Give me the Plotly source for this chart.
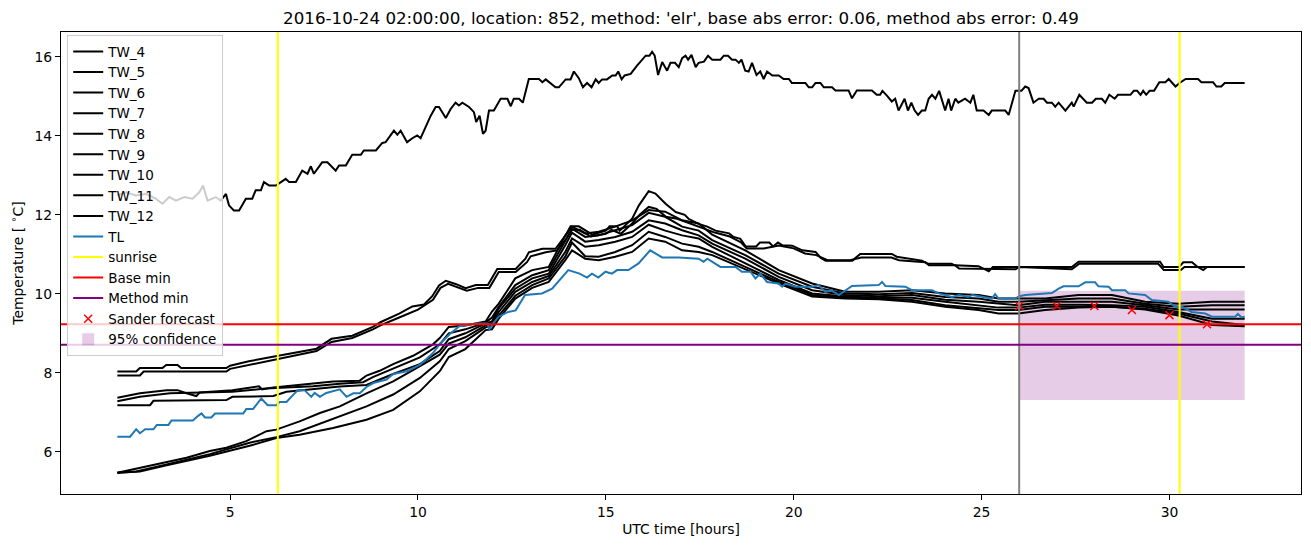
import plotly.graph_objects as go

# ---------------- data (hours UTC, temperature in deg C) ----------------
TW_4 = [(2.0,12.49),(2.23,12.57),(2.49,12.49),(2.76,12.53),(3.02,12.41),(3.2,12.28),(3.38,12.45),(3.56,12.36),(3.78,12.45),(4.0,12.41),
        (4.18,12.57),(4.28,12.74),(4.4,12.36),(4.62,12.45),(4.75,12.36),(4.89,12.53),(4.97,12.24),(5.1,12.11),(5.24,12.11),(5.42,12.41),
        (5.59,12.41),(5.68,12.62),(5.82,12.62),(5.9,12.83),(6.04,12.74),(6.22,12.74),(6.48,12.91),(6.57,12.83),(6.75,12.83),(6.92,13.12),
        (7.06,13.04),(7.15,13.23),(7.23,13.04),(7.45,13.33),(7.59,13.33),(7.81,13.12),(7.9,13.25),(8.08,13.25),(8.25,13.52),(8.48,13.52),
        (8.56,13.63),(8.88,13.63),(9.05,13.82),(9.14,13.84),(9.36,14.13),(9.45,14.03),(9.54,14.13),(9.71,13.84),(9.85,13.94),(9.98,14.01),
        (10.07,13.94),(10.2,14.22),(10.34,14.51),(10.47,14.73),(10.56,14.73),(10.74,14.45),(10.87,14.68),(11.0,14.84),(11.09,14.77),(11.18,14.84),
        (11.36,14.73),(11.49,14.6),(11.55,14.35),(11.64,14.51),(11.73,14.05),(11.8,14.13),(11.89,14.64),(12.02,14.64),(12.2,14.94),(12.38,14.94),
        (12.47,14.75),(12.55,14.94),(12.69,14.94),(12.79,14.84),(12.95,15.44),(13.22,15.44),(13.31,15.36),(13.4,15.43),(13.53,15.34),(13.66,15.23),
        (13.75,15.23),(13.93,15.43),(14.06,15.43),(14.15,15.63),(14.28,15.46),(14.39,15.23),(14.5,15.34),(14.62,15.23),(14.73,15.43),(14.81,15.34),
        (14.9,15.43),(15.03,15.43),(15.17,15.53),(15.26,15.53),(15.33,15.63),(15.42,15.43),(15.5,15.53),(15.66,15.57),(15.83,15.78),(16.06,16.03),
        (16.16,16.03),(16.23,16.13),(16.3,16.03),(16.39,15.54),(16.5,15.87),(16.63,15.65),(16.72,15.85),(16.84,15.85),(16.94,15.74),(17.03,15.97),
        (17.12,16.03),(17.19,15.93),(17.28,16.05),(17.39,15.74),(17.47,15.85),(17.61,15.88),(17.72,16.03),(17.83,15.93),(18.05,15.93),(18.14,16.03),
        (18.25,16.03),(18.36,15.93),(18.45,15.93),(18.54,15.85),(18.61,15.93),(18.71,15.65),(18.8,15.63),(18.89,15.85),(19.01,15.54),(19.11,15.63),
        (19.2,15.44),(19.29,15.63),(19.43,15.53),(19.6,15.53),(19.73,15.44),(19.87,15.44),(19.95,15.34),(20.31,15.34),(20.4,15.23),(20.49,15.23),
        (20.58,15.34),(20.71,15.34),(20.8,15.23),(21.02,15.23),(21.11,15.15),(21.46,15.15),(21.55,14.95),(21.68,15.15),(22.08,15.15),(22.21,15.04),
        (22.3,15.04),(22.36,15.14),(22.48,15.02),(22.61,14.87),(22.7,14.94),(22.79,14.64),(22.95,14.94),(23.04,14.64),(23.13,14.84),(23.22,14.64),
        (23.31,14.53),(23.41,14.64),(23.5,14.64),(23.59,14.94),(23.68,15.04),(23.77,14.94),(23.87,15.14),(23.94,14.94),(24.03,14.64),(24.12,14.94),
        (24.19,14.64),(24.3,14.94),(24.38,14.84),(24.56,14.94),(24.7,14.84),(24.78,15.04),(24.87,14.64),(25.05,14.64),(25.19,14.53),(25.27,14.64),
        (25.63,14.64),(25.72,14.53),(25.9,15.14),(26.06,15.14),(26.16,15.25),(26.25,15.21),(26.38,14.84),(26.52,14.94),(26.65,14.94),(26.74,14.84),
        (26.87,14.84),(26.96,14.74),(27.05,14.84),(27.23,14.64),(27.4,14.84),(27.45,14.74),(27.6,15.04),(27.8,14.84),(27.94,14.84),(28.04,14.94),
        (28.2,14.94),(28.29,14.84),(28.4,15.04),(28.54,14.94),(28.63,15.04),(28.96,15.04),(29.05,15.14),(29.14,15.14),(29.23,15.04),(29.3,15.14),
        (29.38,15.04),(29.47,15.14),(29.59,15.14),(29.73,15.36),(29.89,15.36),(29.98,15.44),(30.16,15.25),(30.27,15.34),(30.43,15.44),(30.76,15.44),
        (30.85,15.36),(31.16,15.36),(31.25,15.25),(31.38,15.25),(31.47,15.34),(32.0,15.34)]

TW_5 = [(2.0,8.03),(2.5,8.03),(2.6,8.12),(3.2,8.12),(3.3,8.2),(3.6,8.2),(3.7,8.12),(4.9,8.12),(5.0,8.18),(5.5,8.29),(6.1,8.4),
        (6.8,8.52),(7.3,8.61),(7.7,8.86),(8.25,8.94),(8.8,9.16),(9.0,9.28),(9.5,9.5),(9.85,9.68),(10.16,9.73),(10.38,9.94),(10.56,10.21),
        (10.74,10.33),(11.0,10.25),(11.27,10.14),(11.54,10.22),(11.86,10.22),(12.11,10.63),(12.6,10.63),(12.86,10.89),(12.95,11.05),
        (13.31,11.14),(13.66,11.14),(13.93,11.48),(14.06,11.71),(14.28,11.71),(14.55,11.56),(14.64,11.5),(15.0,11.6),(15.1,11.71),
        (15.3,11.71),(15.37,11.6),(15.7,11.9),(15.88,12.24),(16.14,12.6),(16.32,12.54),(16.59,12.28),(16.86,12.07),(17.1,12.0),(17.2,11.9),
        (17.47,11.77),(17.7,11.7),(17.92,11.6),(18.28,11.53),(18.4,11.44),(18.58,11.39),(18.72,11.2),(19.0,11.2),(19.1,11.3),(19.35,11.3),
        (19.45,11.2),(19.58,11.3),(19.7,11.23),(19.96,11.22),(20.23,11.1),(20.58,11.06),(20.72,10.91),(20.85,10.84),(21.56,10.84),
        (21.77,11.01),(22.61,11.01),(22.74,10.94),(23.41,10.84),(23.58,10.76),(24.2,10.76),(24.29,10.72),(24.92,10.7),(25.19,10.57),
        (25.3,10.68),(27.4,10.68),(27.58,10.81),(29.75,10.81),(29.84,10.68),(30.25,10.68),(30.37,10.8),(30.6,10.8),(30.75,10.68),
        (30.9,10.6),(31.0,10.68),(32.0,10.68)]

TW_6 = [(2.0,7.93),(2.6,7.93),(2.7,8.03),(4.9,8.03),(5.0,8.1),(5.5,8.2),(6.1,8.32),(6.8,8.45),(7.3,8.55),(7.7,8.78),(8.25,8.88),
        (8.8,9.1),(9.0,9.2),(9.5,9.4),(10.0,9.6),(10.4,9.85),(10.6,10.15),(10.8,10.25),(11.3,10.08),(11.6,10.15),(11.9,10.15),(12.15,10.55),
        (12.6,10.55),(12.9,10.8),(13.0,10.95),(13.4,11.05),(13.7,11.1),(13.95,11.4),(14.1,11.62),(14.3,11.62),(14.6,11.45),(15.0,11.52),
        (15.15,11.62),(15.4,11.52),(15.7,11.78),(15.9,12.0),(16.14,12.2),(16.35,12.15),(16.6,11.95),(16.9,11.9),(17.2,11.8),(17.5,11.68),
        (17.9,11.55),(18.3,11.45),(18.6,11.3),(18.75,11.15),(19.2,11.15),(19.6,11.22),(20.0,11.15),(20.3,11.02),(20.6,10.98),(20.9,10.85),
        (21.5,10.85),(21.8,10.92),(22.6,10.92),(22.8,10.85),(23.5,10.8),(23.6,10.72),(24.3,10.72),(24.4,10.64),(25.9,10.62),(26.0,10.68),
        (27.4,10.62),(27.6,10.76),(29.7,10.76),(29.85,10.6),(30.3,10.6),(30.4,10.68),(32.0,10.68)]

# afternoon sampling hours shared by the six lower sensors
PM_HOURS = [10.82, 11.26, 11.8, 11.97, 12.15, 12.59, 13.04, 13.48, 13.92, 14.1, 14.45, 14.81, 15.25, 15.7, 16.14, 16.58,
            17.03, 17.47, 17.83, 18.71, 19.6, 20.49, 21.37, 22.26, 23.15, 24.03, 24.92, 25.45, 25.98, 26.69, 27.58, 28.47,
            29.35, 30.24, 31.13, 32.0]

TW_7_AM = [(2.0,7.37),(2.6,7.48),(3.31,7.56),(3.6,7.56),(3.84,7.48),(4.1,7.41),(4.19,7.5),(5.06,7.56),(5.77,7.66),(5.85,7.58),
           (6.15,7.63),(7.21,7.72),(7.74,7.78),(8.45,7.8),(8.63,7.93),(8.98,8.05),(9.34,8.22),(9.87,8.43),(10.4,8.72),(10.58,8.88)]
TW_7_PM = [9.16, 9.2, 9.3, 9.55, 9.75, 10.39, 10.6, 10.68, 11.48, 11.7, 11.53, 11.57, 11.7, 11.86, 12.12, 12.08, 11.86, 11.78,
           11.5, 11.1, 10.6, 10.26, 10.05, 10.05, 10.09, 10.01, 9.97, 9.88, 9.88, 9.88, 9.97, 9.97, 9.8, 9.75, 9.8, 9.8]

TW_8_AM = [(2.0,7.28),(2.6,7.39),(3.4,7.48),(5.06,7.52),(5.94,7.6),(7.21,7.66),(7.92,7.72),(8.54,7.76),(8.8,7.89),(9.34,8.1),
           (10.05,8.39),(10.58,8.72)]
TW_8_PM = [9.0, 9.1, 9.27, 9.4, 9.67, 10.22, 10.47, 10.6, 11.36, 11.65, 11.44, 11.48, 11.61, 11.74, 12.05, 11.95, 11.7, 11.6,
           11.36, 10.98, 10.51, 10.18, 10.01, 9.99, 10.02, 9.92, 9.88, 9.8, 9.8, 9.84, 9.88, 9.88, 9.75, 9.67, 9.71, 9.71]

TW_9_AM = [(2.0,7.18),(2.87,7.18),(2.96,7.29),(4.9,7.31),(5.06,7.39),(6.15,7.41),(6.5,7.52),(7.92,7.65),(8.63,7.69),(8.9,7.8),
           (9.34,7.97),(10.05,8.22),(10.58,8.55)]
TW_9_PM = [8.85, 9.0, 9.25, 9.3, 9.63, 10.13, 10.39, 10.51, 11.23, 11.55, 11.32, 11.36, 11.44, 11.57, 11.86, 11.78, 11.61, 11.48,
           11.27, 10.89, 10.43, 10.09, 9.97, 9.94, 9.97, 9.85, 9.8, 9.75, 9.71, 9.8, 9.8, 9.8, 9.71, 9.6, 9.6, 9.6]

TW_10_AM = [(2.0,5.47),(2.34,5.54),(2.87,5.64),(3.84,5.85),(4.46,6.02),(4.9,6.1),(5.43,6.27),(5.97,6.52),(6.23,6.56),(6.85,6.77),
            (7.39,6.98),(7.92,7.15),(8.63,7.48),(9.34,7.78),(9.96,8.12),(10.4,8.37),(10.58,8.46)]
TW_10_PM = [8.74, 8.9, 9.2, 9.25, 9.54, 10.05, 10.3, 10.45, 11.06, 11.4, 11.19, 11.23, 11.32, 11.44, 11.75, 11.6, 11.48, 11.4,
            11.19, 10.77, 10.35, 10.01, 9.93, 9.9, 9.9, 9.8, 9.7, 9.65, 9.65, 9.72, 9.72, 9.71, 9.67, 9.54, 9.37, 9.37]

TW_11_AM = [(2.0,5.47),(2.5,5.5),(3.31,5.68),(4.46,5.94),(5.52,6.23),(6.23,6.37),(6.85,6.52),(7.74,6.84),(8.63,7.15),(9.34,7.45),
            (10.05,7.87),(10.58,8.29)]
TW_11_PM = [8.6, 8.8, 9.15, 9.2, 9.45, 9.95, 10.22, 10.39, 10.94, 11.3, 10.95, 10.94, 11.06, 11.23, 11.57, 11.44, 11.27, 11.19,
            11.06, 10.68, 10.3, 9.97, 9.9, 9.88, 9.84, 9.71, 9.63, 9.59, 9.59, 9.67, 9.67, 9.67, 9.62, 9.5, 9.3, 9.21]

TW_12_AM = [(2.0,5.47),(2.6,5.5),(3.31,5.66),(4.46,5.9),(5.52,6.15),(6.23,6.35),(6.85,6.43),(7.74,6.6),(8.63,6.81),(9.34,7.06),
            (10.05,7.53),(10.58,8.04)]
TW_12_PM = [8.4, 8.6, 9.08, 9.1, 9.37, 9.88, 10.15, 10.3, 10.85, 11.1, 10.89, 10.85, 10.94, 11.06, 11.4, 11.32, 11.1, 11.06,
            10.98, 10.62, 10.26, 9.93, 9.88, 9.86, 9.8, 9.67, 9.59, 9.5, 9.5, 9.59, 9.65, 9.67, 9.6, 9.45, 9.21, 9.18]

TL = [(2.0,6.38),(2.34,6.38),(2.5,6.57),(2.6,6.47),(2.74,6.57),(2.96,6.57),(3.05,6.68),(3.36,6.68),(3.44,6.79),(4.01,6.79),
      (4.15,6.91),(4.24,6.97),(4.33,6.87),(4.5,6.87),(4.6,6.97),(5.35,6.97),(5.43,7.08),(5.61,7.08),(5.83,7.35),(6.0,7.18),
      (6.23,7.18),(6.32,7.26),(6.5,7.26),(6.63,7.39),(6.8,7.56),(6.98,7.56),(7.16,7.39),(7.25,7.49),(7.39,7.39),(7.56,7.49),
      (7.92,7.58),(8.1,7.39),(8.28,7.48),(8.45,7.48),(8.63,7.64),(8.81,7.74),(9.16,7.83),(9.34,7.97),(9.7,8.04),(10.05,8.2),
      (10.4,8.5),(10.6,8.75),(10.85,8.98),(11.1,9.18),(11.55,9.25),(11.85,9.25),(11.9,9.1),(12.0,9.25),(12.15,9.42),(12.4,9.54),
      (12.6,9.58),(12.85,9.97),(13.3,10.01),(13.57,10.13),(14.0,10.6),(14.3,10.51),(14.5,10.41),(14.63,10.51),(14.8,10.41),
      (14.99,10.56),(15.16,10.51),(15.3,10.6),(15.6,10.6),(15.87,10.77),(16.18,11.1),(16.5,10.92),(16.94,10.92),(17.47,10.89),
      (17.6,10.81),(17.7,10.89),(17.92,10.77),(18.05,10.68),(18.45,10.68),(18.62,10.56),(18.85,10.56),(18.98,10.39),(19.11,10.51),
      (19.29,10.3),(19.6,10.26),(19.69,10.18),(19.78,10.26),(20.04,10.18),(20.49,10.18),(20.66,10.22),(20.84,10.05),(21.0,10.09),
      (21.2,9.97),(21.37,10.09),(21.55,10.2),(22.26,10.22),(22.35,10.3),(22.44,10.2),(22.97,10.18),(23.15,10.09),(23.68,10.09),
      (23.86,10.01),(24.21,9.92),(24.4,9.97),(24.65,9.92),(24.75,9.97),(25.27,9.88),(25.36,9.99),(25.45,9.88),(25.9,9.88),
      (26.0,9.94),(26.16,9.97),(26.87,10.02),(27.05,10.13),(27.18,10.19),(27.58,10.19),(27.76,10.29),(28.02,10.29),(28.11,10.19),
      (28.38,10.18),(28.47,10.09),(28.82,10.09),(28.91,10.01),(29.35,9.97),(29.53,9.84),(29.97,9.8),(30.15,9.67),(30.33,9.67),
      (30.59,9.54),(30.95,9.5),(31.13,9.42),(31.75,9.42),(31.82,9.49),(31.92,9.4),(32.0,9.42)]

SUNRISE = [6.27, 30.27]
FORECAST_START = 26.0
BASE_MIN = 9.23
METHOD_MIN = 8.71
SANDER_HOURS = [26, 27, 28, 29, 30, 31]
SANDER_TEMPS = [9.69, 9.69, 9.69, 9.59, 9.46, 9.23]
CONF_HOURS = [26.0, 32.0]
CONF_TEMPS = [7.31, 10.08]

TITLE = "2016-10-24 02:00:00, location: 852, method: 'elr', base abs error: 0.06, method abs error: 0.49"

# ---------------- figure ----------------
def split(pairs):
    return [p[0] for p in pairs], [p[1] for p in pairs]

def join(am, pm):
    xs, ys = split(am)
    return xs + PM_HOURS, ys + pm

series = [
    ("TW_4",) + tuple(split(TW_4)),
    ("TW_5",) + tuple(split(TW_5)),
    ("TW_6",) + tuple(split(TW_6)),
    ("TW_7",) + tuple(join(TW_7_AM, TW_7_PM)),
    ("TW_8",) + tuple(join(TW_8_AM, TW_8_PM)),
    ("TW_9",) + tuple(join(TW_9_AM, TW_9_PM)),
    ("TW_10",) + tuple(join(TW_10_AM, TW_10_PM)),
    ("TW_11",) + tuple(join(TW_11_AM, TW_11_PM)),
    ("TW_12",) + tuple(join(TW_12_AM, TW_12_PM)),
]

FONT = "DejaVu Sans"
FS = 13.9
LFS = 13.5
fig = go.Figure()
rank = 1
for name, xs, ys in series:
    fig.add_trace(go.Scatter(x=xs, y=ys, mode="lines", name=name, legendgroup=name, legendrank=rank,
                             line=dict(color="black", width=2)))
    rank += 1

tx, ty = split(TL)
fig.add_trace(go.Scatter(x=tx, y=ty, mode="lines", name="TL", legendgroup="TL", legendrank=10,
                         line=dict(color="#1f77b4", width=2)))

fig.add_trace(go.Scatter(x=SANDER_HOURS, y=SANDER_TEMPS, mode="markers", name="Sander forecast",
                         legendgroup="sander", legendrank=14,
                         marker=dict(symbol="x-thin", size=8, color="red", line=dict(color="red", width=1.5))))

shapes = []
# confidence band
shapes.append(dict(type="rect", xref="x", yref="y", x0=CONF_HOURS[0], x1=CONF_HOURS[1], y0=CONF_TEMPS[0], y1=CONF_TEMPS[1],
                   fillcolor="rgba(128,0,128,0.2)", line=dict(width=0), layer="below",
                   showlegend=True, name="95% confidence", legendrank=15, legendgroup="conf"))
# forecast start
shapes.append(dict(type="line", xref="x", yref="y domain", x0=FORECAST_START, x1=FORECAST_START, y0=0, y1=1,
                   line=dict(color="gray", width=2), layer="above"))
for i, s in enumerate(SUNRISE):
    shapes.append(dict(type="line", xref="x", yref="y domain", x0=s, x1=s, y0=0, y1=1,
                       line=dict(color="yellow", width=2), layer="above",
                       showlegend=(i == 0), name="sunrise", legendrank=11, legendgroup="sunrise"))
shapes.append(dict(type="line", xref="x domain", yref="y", x0=0, x1=1, y0=BASE_MIN, y1=BASE_MIN,
                   line=dict(color="red", width=2), layer="above",
                   showlegend=True, name="Base min", legendrank=12, legendgroup="base"))
shapes.append(dict(type="line", xref="x domain", yref="y", x0=0, x1=1, y0=METHOD_MIN, y1=METHOD_MIN,
                   line=dict(color="purple", width=2), layer="above",
                   showlegend=True, name="Method min", legendrank=13, legendgroup="method"))

fig.update_layout(
    width=1311, height=547,
    margin=dict(l=61, r=10, t=32, b=53),
    paper_bgcolor="white", plot_bgcolor="white",
    font=dict(family=FONT, size=FS, color="black"),
    title=dict(text=TITLE, x=0.5, xref="paper", xanchor="center", y=1 - 18 / 547, yref="container",
               yanchor="middle", font=dict(family=FONT, size=16.7, color="black")),
    shapes=shapes,
    showlegend=True,
    legend=dict(x=0.005, y=0.993, xanchor="left", yanchor="top", bgcolor="rgba(255,255,255,0.8)",
                bordercolor="#cccccc", borderwidth=1, font=dict(family=FONT, size=LFS, color="black"),
                tracegroupgap=0, itemwidth=30),
)
fig.update_xaxes(range=[0.5, 33.5], tickvals=[5, 10, 15, 20, 25, 30], ticks="outside", ticklen=5, tickwidth=1,
                 tickcolor="black", showline=True, linecolor="black", linewidth=1, mirror=True,
                 tickfont=dict(family=FONT, size=FS),
                 showgrid=False, zeroline=False, title=dict(text="UTC time [hours]", standoff=5,
                 font=dict(family=FONT, size=FS)))
fig.update_yaxes(range=[4.93, 16.63], tickvals=[6, 8, 10, 12, 14, 16], ticks="outside", ticklen=5, tickwidth=1,
                 tickcolor="black", showline=True, linecolor="black", linewidth=1, mirror=True,
                 tickfont=dict(family=FONT, size=FS),
                 showgrid=False, zeroline=False, title=dict(text="Temperature [ <sup>∘</sup>C]", standoff=7,
                 font=dict(family=FONT, size=FS)))

fig.write_html("out.html")
